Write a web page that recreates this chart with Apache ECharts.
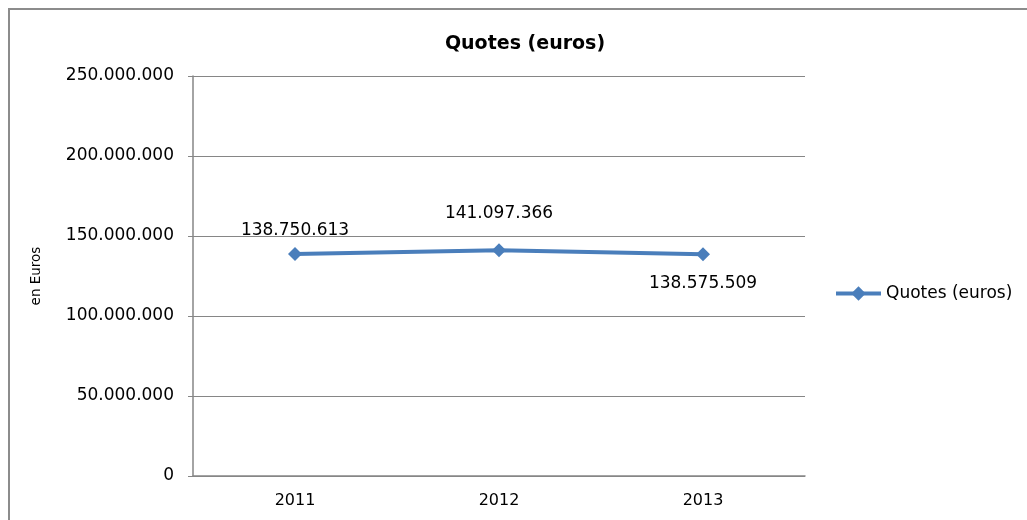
<!DOCTYPE html>
<html>
<head>
<meta charset="utf-8">
<script src="https://cdn.jsdelivr.net/npm/echarts@6/dist/echarts.min.js"></script>
<style>
  html, body { margin: 0; padding: 0; background: #fff; }
  #main { width: 1027px; height: 520px; }
</style>
</head>
<body>
<div id="main"></div>
<script>
var years = ['2011', '2012', '2013'];
var quotes = [138750613, 141097366, 138575509];
var labelPos = ['top', 'top', 'bottom'];
var labelOffset = [[0, -3], [0, -16], [0, 9]];

var fmt = function (v) {
  return String(Math.round(v)).replace(/\B(?=(\d{3})+(?!\d))/g, '.');
};

var chartDom = document.getElementById('main');
var myChart = echarts.init(chartDom);
var option = {
  animation: false,
  textStyle: { fontFamily: 'DejaVu Sans' },
  title: {
    text: 'Quotes (euros)',
    left: 520,
    textAlign: 'center',
    top: 30,
    textStyle: { fontFamily: 'DejaVu Sans', fontWeight: 'bold', fontSize: 19, color: '#000' },
  },
  graphic: [
    {
      type: 'rect',
      shape: { x: 9, y: 9, width: 1100, height: 600 },
      style: { fill: 'none', stroke: '#8c8c8c', lineWidth: 2 },
      silent: true,
    },
  ],
  legend: {
    left: 829,
    top: 280,
    itemWidth: 45,
    itemHeight: 18,
    itemGap: 2,
    data: [{ name: 'Quotes (euros)', lineStyle: { width: 4 } }],
    textStyle: { fontFamily: 'DejaVu Sans', fontSize: 17, color: '#000' },
  },
  grid: { left: 193, right: 222, top: 76, bottom: 44 },
  xAxis: {
    type: 'category',
    data: years,
    axisLine: { lineStyle: { color: '#868686', width: 1.5 } },
    axisTick: { show: false },
    axisLabel: { color: '#000', fontSize: 16, margin: 17 },
  },
  yAxis: {
    type: 'value',
    min: 0,
    max: 250000000,
    interval: 50000000,
    name: 'en Euros',
    nameLocation: 'middle',
    nameGap: 150,
    nameTextStyle: { fontSize: 13.5, color: '#000' },
    axisLine: { show: true, lineStyle: { color: '#868686', width: 1.5 } },
    axisTick: { show: true, length: 5, lineStyle: { color: '#868686' } },
    axisLabel: { color: '#000', fontSize: 17, margin: 19, formatter: fmt },
    splitLine: { lineStyle: { color: '#868686', width: 1.2 } },
  },
  series: [
    {
      name: 'Quotes (euros)',
      type: 'line',
      data: quotes.map(function (v, i) {
        return {
          value: v,
          label: { position: labelPos[i], offset: labelOffset[i] },
        };
      }),
      symbol: 'diamond',
      symbolSize: 14,
      itemStyle: { color: '#4a7ebb' },
      lineStyle: { color: '#4a7ebb', width: 4 },
      label: {
        show: true,
        color: '#000',
        fontSize: 17,
        formatter: function (p) { return fmt(p.value); },
      },
    },
  ],
};

option && myChart.setOption(option);
</script>
</body>
</html>
